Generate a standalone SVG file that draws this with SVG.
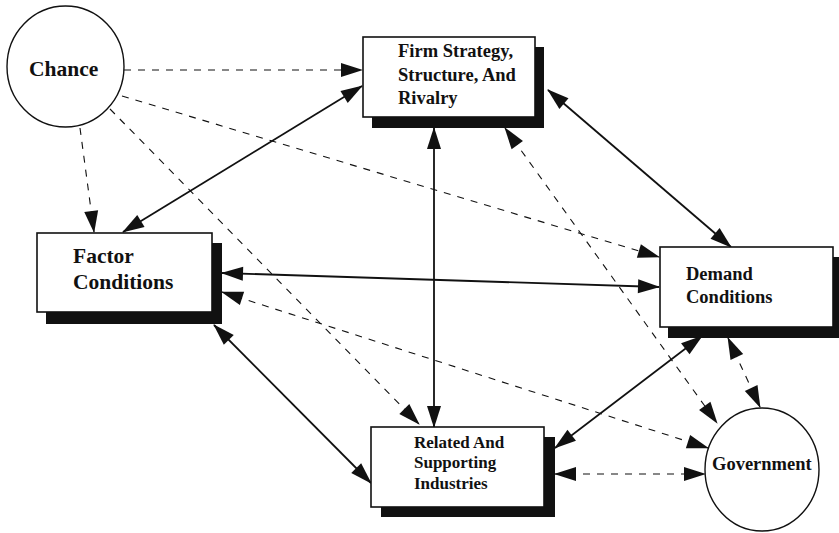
<svg xmlns="http://www.w3.org/2000/svg" width="839" height="533" viewBox="0 0 839 533">
  <defs>
    <marker id="arrow" markerUnits="userSpaceOnUse" markerWidth="22" markerHeight="14" refX="21" refY="7" orient="auto-start-reverse" overflow="visible">
      <path d="M0,0 L22,7 L0,14 z" fill="#111"/>
    </marker>
    <style>
      .box { fill: #fff; stroke: #111; stroke-width: 1.6; }
      .shadow { fill: #111; }
      .circle { fill: #fff; stroke: #111; stroke-width: 1.4; }
      .label { font-family: "Liberation Serif", "Times New Roman", serif; font-weight: bold; fill: #111; }
      .solid { fill: none; stroke: #111; stroke-width: 1.8; }
      .dashed { fill: none; stroke: #111; stroke-width: 1.1; stroke-dasharray: 7 7; }
    </style>
  </defs>
  <rect width="839" height="533" fill="#fff"/>

  <!-- connectors -->
  <g id="connectors">
    <path class="dashed" d="M124,70 L362,70" marker-end="url(#arrow)"/>
    <path class="dashed" d="M122,96 L659,257" marker-end="url(#arrow)"/>
    <path class="dashed" d="M80,128 L94,232" marker-end="url(#arrow)"/>
    <path class="dashed" d="M110,109 L419,424" marker-end="url(#arrow)"/>
    <path class="solid" d="M362,86 L123,232" marker-start="url(#arrow)" marker-end="url(#arrow)"/>
    <path class="solid" d="M434,128 L434,427" marker-start="url(#arrow)" marker-end="url(#arrow)"/>
    <path class="solid" d="M548,90 L731,247" marker-start="url(#arrow)" marker-end="url(#arrow)"/>
    <path class="solid" d="M222,273 L659,287" marker-start="url(#arrow)" marker-end="url(#arrow)"/>
    <path class="dashed" d="M222,292 L708,448" marker-start="url(#arrow)" marker-end="url(#arrow)"/>
    <path class="dashed" d="M505,128 L717,423" marker-start="url(#arrow)" marker-end="url(#arrow)"/>
    <path class="dashed" d="M728,338 L760,407" marker-start="url(#arrow)" marker-end="url(#arrow)"/>
    <path class="solid" d="M702,336 L555,448" marker-start="url(#arrow)" marker-end="url(#arrow)"/>
    <path class="dashed" d="M555,474 L705,474" marker-start="url(#arrow)" marker-end="url(#arrow)"/>
    <path class="solid" d="M214,325 L371,483" marker-start="url(#arrow)" marker-end="url(#arrow)"/>
  </g>

  <!-- Chance -->
  <g id="chance">
    <ellipse class="circle" cx="65.5" cy="66.5" rx="58.5" ry="60.5"/>
    <text class="label" x="29" y="76" font-size="21.5">Chance</text>
  </g>

  <!-- Firm Strategy, Structure, And Rivalry -->
  <g id="firm">
    <rect class="shadow" x="372" y="47" width="172" height="81"/>
    <rect class="box" x="363" y="37" width="172" height="80"/>
    <text class="label" x="398" y="57" font-size="18.5">Firm Strategy,</text>
    <text class="label" x="398" y="81" font-size="18.5">Structure, And</text>
    <text class="label" x="398" y="104" font-size="18.5">Rivalry</text>
  </g>

  <!-- Factor Conditions -->
  <g id="factor">
    <rect class="shadow" x="46" y="243" width="176" height="81"/>
    <rect class="box" x="37" y="233" width="175" height="79"/>
    <text class="label" x="73" y="263" font-size="21.5">Factor</text>
    <text class="label" x="73" y="289" font-size="21.5">Conditions</text>
  </g>

  <!-- Demand Conditions -->
  <g id="demand">
    <rect class="shadow" x="668" y="257" width="171" height="81"/>
    <rect class="box" x="660" y="247" width="173" height="80"/>
    <text class="label" x="686" y="280" font-size="18.5">Demand</text>
    <text class="label" x="686" y="303" font-size="18.5">Conditions</text>
  </g>

  <!-- Related And Supporting Industries -->
  <g id="related">
    <rect class="shadow" x="381" y="437" width="174" height="80"/>
    <rect class="box" x="371" y="427" width="173" height="80"/>
    <text class="label" x="414" y="448" font-size="17">Related And</text>
    <text class="label" x="414" y="468" font-size="17">Supporting</text>
    <text class="label" x="414" y="489" font-size="17">Industries</text>
  </g>

  <!-- Government -->
  <g id="government">
    <ellipse class="circle" cx="762" cy="469.5" rx="57" ry="61.5"/>
    <text class="label" x="712" y="470" font-size="18.5">Government</text>
  </g>
</svg>
